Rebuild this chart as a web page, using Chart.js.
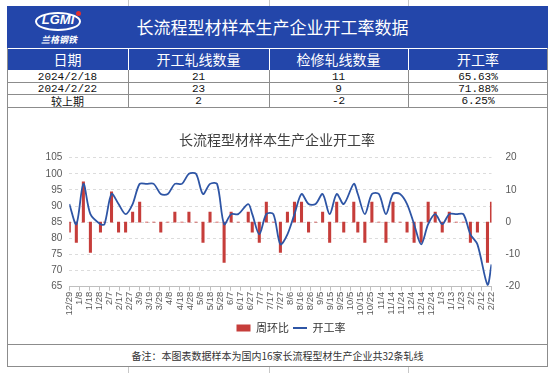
<!DOCTYPE html>
<html>
<head>
<meta charset="utf-8">
<script src="https://cdn.jsdelivr.net/npm/chart.js@4.4.1/dist/chart.umd.min.js"></script>
<style>
  body { margin: 0; width: 554px; height: 373px; background: #fff; position: relative; overflow: hidden;
         font-family: "Noto Sans CJK SC", sans-serif; }
  .abs { position: absolute; box-sizing: border-box; }
  .blue { background: #2346AA; }
  .hcell { color: #fff; font-size: 14px; line-height: 21px; text-align: center; top: 49px; height: 21px; }
  .dcell { color: #111; font-size: 11px; line-height: 12px; text-align: center; font-family: "Liberation Mono", monospace; }
  .cjk { font-family: "Noto Sans CJK SC", sans-serif; font-size: 11px; }
  .vl { width: 1px; background: #8c8c8c; }
  .hl { height: 1px; background: #8c8c8c; }
  .tick { width: 1px; background: #c8c8c8; }
</style>
</head>
<body>

<!-- little column marks above and below the table -->
<div class="abs tick" style="left:128px;top:0;height:6px"></div>
<div class="abs tick" style="left:269px;top:0;height:6px"></div>
<div class="abs tick" style="left:408px;top:0;height:6px"></div>
<div class="abs tick" style="left:128px;top:367px;height:6px"></div>
<div class="abs tick" style="left:269px;top:367px;height:6px"></div>
<div class="abs tick" style="left:408px;top:367px;height:6px"></div>

<!-- title row -->
<div class="abs blue" style="left:7px;top:6px;width:541px;height:42px"></div>
<div class="abs" style="left:0;top:6px;width:545px;height:42px;line-height:42px;text-align:center;color:#fff;font-size:17px">长流程型材样本生产企业开工率数据</div>

<!-- logo -->
<div class="abs" style="left:35px;top:12px;width:46px;height:19px;border:2px solid #fff;border-radius:50%"></div>
<div class="abs" style="left:35px;top:12px;width:46px;height:19px;line-height:19px;text-align:center;color:#fff;font:italic bold 13px 'Liberation Sans',sans-serif">LGMI</div>
<div class="abs" style="left:76px;top:11px;width:5px;height:5px;border-radius:50%;background:#e03030"></div>
<div class="abs" style="left:37px;top:34px;width:44px;text-align:center;color:#fff;font-size:9px;line-height:11px;font-weight:bold;font-style:italic">兰格钢铁</div>

<!-- header row -->
<div class="abs blue" style="left:7px;top:49px;width:541px;height:21px"></div>
<div class="abs" style="left:7px;top:48px;width:541px;height:1px;background:#fff"></div>
<div class="abs" style="left:128px;top:49px;width:1px;height:21px;background:#fff"></div>
<div class="abs" style="left:269px;top:49px;width:1px;height:21px;background:#fff"></div>
<div class="abs" style="left:408px;top:49px;width:1px;height:21px;background:#fff"></div>
<div class="abs hcell" style="left:7px;width:121px">日期</div>
<div class="abs hcell" style="left:128px;width:141px">开工轧线数量</div>
<div class="abs hcell" style="left:269px;width:139px">检修轧线数量</div>
<div class="abs hcell" style="left:408px;width:140px">开工率</div>

<!-- data rows -->
<div class="abs dcell" style="left:7px;top:71px;width:121px">2024/2/18</div>
<div class="abs dcell" style="left:128px;top:71px;width:141px">21</div>
<div class="abs dcell" style="left:269px;top:71px;width:139px">11</div>
<div class="abs dcell" style="left:408px;top:71px;width:140px">65.63%</div>
<div class="abs dcell" style="left:7px;top:83px;width:121px">2024/2/22</div>
<div class="abs dcell" style="left:128px;top:83px;width:141px">23</div>
<div class="abs dcell" style="left:269px;top:83px;width:139px">9</div>
<div class="abs dcell" style="left:408px;top:83px;width:140px">71.88%</div>
<div class="abs dcell cjk" style="left:7px;top:95px;width:121px">较上期</div>
<div class="abs dcell" style="left:128px;top:95px;width:141px">2</div>
<div class="abs dcell" style="left:269px;top:95px;width:139px">-2</div>
<div class="abs dcell" style="left:408px;top:95px;width:140px">6.25%</div>

<div class="abs hl" style="left:7px;top:82px;width:541px"></div>
<div class="abs hl" style="left:7px;top:94px;width:541px"></div>
<div class="abs hl" style="left:7px;top:107px;width:541px"></div>
<div class="abs vl" style="left:128px;top:70px;height:37px"></div>
<div class="abs vl" style="left:269px;top:70px;height:37px"></div>
<div class="abs vl" style="left:408px;top:70px;height:37px"></div>

<!-- outer frame of table body, chart panel and note -->
<div class="abs vl" style="left:7px;top:48px;height:319px"></div>
<div class="abs vl" style="left:547px;top:48px;height:319px"></div>
<div class="abs hl" style="left:7px;top:344px;width:541px"></div>
<div class="abs hl" style="left:7px;top:366px;width:541px"></div>
<div class="abs" style="left:7px;top:345px;width:541px;height:21px;line-height:21px;text-align:center;font-size:10px;color:#333">备注：本图表数据样本为国内16家长流程型材生产企业共32条轧线</div>

<canvas id="chart" class="abs" width="538" height="236" style="left:8px;top:108px"></canvas>

<script>
// sample dates (weekly, shifted around holidays)
var dates = [
  '2022-12-29', '2023-01-05', '2023-01-12', '2023-01-19', '2023-01-29', '2023-02-02',
  '2023-02-09', '2023-02-16', '2023-02-23', '2023-03-02', '2023-03-09', '2023-03-16',
  '2023-03-23', '2023-03-30', '2023-04-06', '2023-04-13', '2023-04-20', '2023-04-27',
  '2023-05-04', '2023-05-11', '2023-05-18', '2023-05-25', '2023-06-01', '2023-06-08',
  '2023-06-15', '2023-06-25', '2023-06-29', '2023-07-06', '2023-07-13', '2023-07-20',
  '2023-07-27', '2023-08-03', '2023-08-10', '2023-08-17', '2023-08-24', '2023-08-31',
  '2023-09-07', '2023-09-14', '2023-09-21', '2023-09-28', '2023-10-08', '2023-10-12',
  '2023-10-19', '2023-10-26', '2023-11-02', '2023-11-09', '2023-11-16', '2023-11-23',
  '2023-11-30', '2023-12-07', '2023-12-14', '2023-12-21', '2023-12-28', '2024-01-04',
  '2024-01-11', '2024-01-18', '2024-01-25', '2024-02-01', '2024-02-08', '2024-02-18',
  '2024-02-22'
];

// 开工率 (%)
var openRate = [
  90.63, 84.38, 96.88, 87.50, 84.38, 84.38,
  93.75, 90.63, 87.50, 90.63, 96.88, 96.88,
  96.88, 93.75, 93.75, 96.88, 96.88, 100.00,
  100.00, 93.75, 96.88, 96.88, 84.38, 87.50,
  87.50, 90.63, 87.50, 81.25, 87.50, 87.50,
  78.13, 81.25, 87.50, 93.75, 90.63, 90.63,
  93.75, 87.50, 93.75, 90.63, 96.88, 93.75,
  87.50, 93.75, 93.75, 87.50, 93.75, 93.75,
  90.63, 84.38, 78.13, 84.38, 87.50, 84.38,
  87.50, 87.50, 87.50, 81.25, 78.13, 65.63,
  71.88
];

// 周环比 (percentage points)
var weekChange = [
  -3.13, -6.25, 12.50, -9.38, -3.13, 0,
  9.38, -3.13, -3.13, 3.13, 6.25, 0,
  0, -3.13, 0, 3.13, 0, 3.13,
  0, -6.25, 3.13, 0, -12.50, 3.13,
  0, 3.13, -3.13, -6.25, 6.25, 0,
  -9.38, 3.13, 6.25, 6.25, -3.13, 0,
  3.13, -6.25, 6.25, -3.13, 6.25, -3.13,
  -6.25, 6.25, 0, -6.25, 6.25, 0,
  -3.13, -6.25, -6.25, 6.25, 3.13, -3.13,
  3.13, 0, 0, -6.25, -3.13, -12.50,
  6.25
];

// date axis labels, one every 10 days from 2022-12-29
var tickLabels = [
  '12/29', '1/8', '1/18', '1/28', '2/7', '2/17', '2/27', '3/9', '3/19', '3/29',
  '4/8', '4/18', '4/28', '5/8', '5/18', '5/28', '6/7', '6/17', '6/27', '7/7',
  '7/17', '7/27', '8/6', '8/16', '8/26', '9/5', '9/15', '9/25', '10/5', '10/15',
  '10/25', '11/4', '11/14', '11/24', '12/4', '12/14', '12/24', '1/3', '1/13', '1/23',
  '2/2', '2/12', '2/22'
];

var leftTicks = { min: 65, max: 105, step: 5 };
var rightTicks = { min: -20, max: 20, step: 10 };

var startDay = Date.UTC(2022, 11, 29);
function dayOf(s) {
  var p = s.split('-');
  return (Date.UTC(+p[0], +p[1] - 1, +p[2]) - startDay) / 86400000;
}

var tickFont = { family: "'Liberation Sans', Arial, sans-serif", size: 10 };

// the legend sits a little right of centre in the original
var legendShift = {
  id: 'legendShift',
  afterLayout: function (chart) {
    if (chart.legend) { chart.legend.left += 14; chart.legend.right += 14; }
  }
};

new Chart(document.getElementById('chart'), {
  type: 'line',
  plugins: [legendShift],
  data: {
    datasets: [
      {
        type: 'bar',
        label: '周环比',
        data: dates.map(function (d, i) { return { x: dayOf(d), y: weekChange[i] }; }),
        yAxisID: 'y1',
        backgroundColor: '#C63D3A',
        borderWidth: 0,
        barThickness: 2.4,
        pointStyle: 'rect',
        order: 1
      },
      {
        type: 'line',
        label: '开工率',
        data: dates.map(function (d, i) { return { x: dayOf(d), y: openRate[i] }; }),
        yAxisID: 'y',
        borderColor: '#2E55A5',
        backgroundColor: '#2E55A5',
        borderWidth: 1.8,
        pointRadius: 0,
        tension: 0.3,
        pointStyle: 'line',
        order: 0
      }
    ]
  },
  options: {
    responsive: false,
    animation: false,
    devicePixelRatio: 1,
    layout: { padding: { left: 0, right: 0, top: 0, bottom: 0.5 } },
    scales: {
      x: {
        type: 'linear',
        min: 0,
        max: tickLabels.length * 10 - 10,
        offset: false,
        grid: { offset: false, drawOnChartArea: false, drawTicks: true, tickLength: 4, color: '#bfbfbf' },
        border: { display: true, color: '#bfbfbf' },
        ticks: {
          stepSize: 10,
          autoSkip: false,
          minRotation: 90,
          maxRotation: 90,
          padding: 1,
          color: '#595959',
          font: { family: tickFont.family, size: 9.5 },
          callback: function (v) { return tickLabels[Math.round(v / 10)]; }
        },
        afterFit: function (s) { s.height = 31.8; }
      },
      y: {
        position: 'left',
        min: leftTicks.min,
        max: leftTicks.max,
        grid: { color: '#dcdcdc', drawTicks: false },
        border: { display: false, dash: [3, 3] },
        ticks: { stepSize: leftTicks.step, padding: 7, color: '#595959', font: tickFont },
        afterFit: function (s) { s.width = 61.3; }
      },
      y1: {
        position: 'right',
        min: rightTicks.min,
        max: rightTicks.max,
        grid: { display: false },
        border: { display: false },
        ticks: { stepSize: rightTicks.step, padding: 6, color: '#595959', font: tickFont },
        afterFit: function (s) { s.width = 54.5; }
      }
    },
    plugins: {
      title: {
        display: true,
        text: '长流程型材样本生产企业开工率',
        color: '#404040',
        font: { family: "'Noto Sans CJK SC', sans-serif", size: 14, weight: 'normal' },
        padding: { top: 23.4, bottom: 9.5 }
      },
      legend: {
        position: 'bottom',
        labels: {
          usePointStyle: true,
          pointStyleWidth: 14,
          boxHeight: 7,
          padding: 4,
          color: '#333',
          font: { family: "'Noto Sans CJK SC', sans-serif", size: 11 },
          sort: function (a, b) { return a.datasetIndex - b.datasetIndex; }
        }
      },
      tooltip: { enabled: false }
    }
  }
});
</script>
</body>
</html>
